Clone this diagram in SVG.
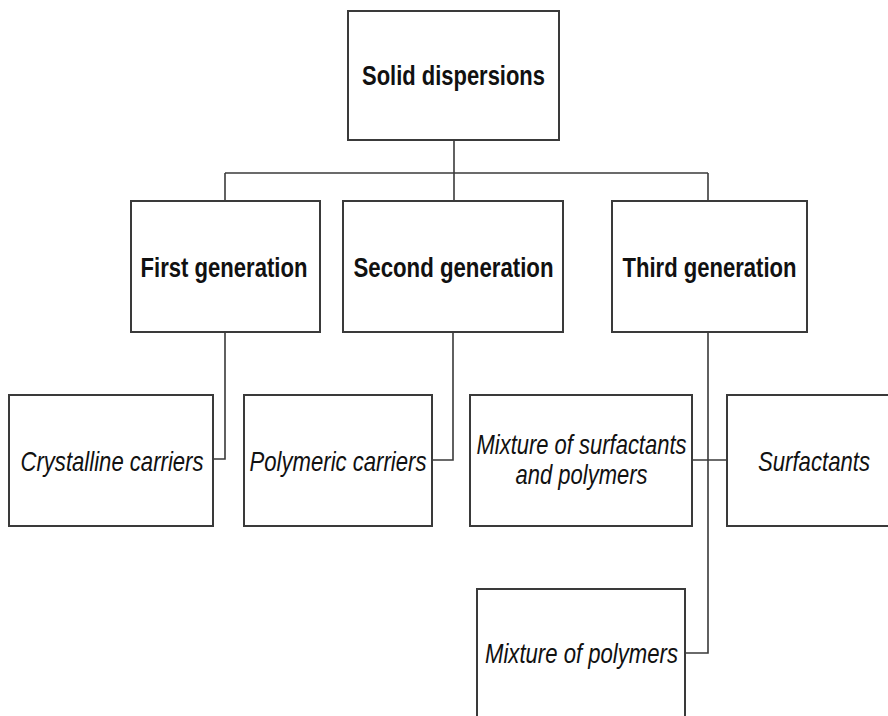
<svg xmlns="http://www.w3.org/2000/svg" width="888" height="716" viewBox="0 0 888 716">
<style>
.box{fill:#fff;stroke:#3a3a3a;stroke-width:2}
.conn{fill:none;stroke:#3a3a3a;stroke-width:1.6}
.b{font-family:"Liberation Sans",Arial,sans-serif;font-weight:bold;font-size:28px;fill:#111;text-anchor:middle}
.i{font-family:"Liberation Sans",Arial,sans-serif;font-style:italic;font-size:28px;fill:#111;text-anchor:middle}
</style>
<rect width="888" height="716" fill="#fff"/>
<g id="connectors">
<path class="conn" d="M454 140 V201"/>
<path class="conn" d="M225 173 H708"/>
<path class="conn" d="M225 173 V201"/>
<path class="conn" d="M708 173 V201"/>
<path class="conn" d="M225 332 V459 H213"/>
<path class="conn" d="M453 332 V460 H432"/>
<path class="conn" d="M708 332 V653 H685"/>
<path class="conn" d="M692 460 H727"/>
</g>
<g id="root">
<rect class="box" x="348" y="11" width="211" height="129"/>
<text class="b" x="453.5" y="85" textLength="183" lengthAdjust="spacingAndGlyphs">Solid dispersions</text>
</g>
<g id="first">
<rect class="box" x="131" y="201" width="189" height="131"/>
<text class="b" x="224" y="277" textLength="167" lengthAdjust="spacingAndGlyphs">First generation</text>
</g>
<g id="second">
<rect class="box" x="343" y="201" width="220" height="131"/>
<text class="b" x="453.5" y="277" textLength="200" lengthAdjust="spacingAndGlyphs">Second generation</text>
</g>
<g id="third">
<rect class="box" x="612" y="201" width="195" height="131"/>
<text class="b" x="709.5" y="277" textLength="174" lengthAdjust="spacingAndGlyphs">Third generation</text>
</g>
<g id="crystalline">
<rect class="box" x="9" y="395" width="204" height="131"/>
<text class="i" x="112" y="471" textLength="183" lengthAdjust="spacingAndGlyphs">Crystalline carriers</text>
</g>
<g id="polymeric">
<rect class="box" x="244" y="395" width="188" height="131"/>
<text class="i" x="338" y="471" textLength="177" lengthAdjust="spacingAndGlyphs">Polymeric carriers</text>
</g>
<g id="mix-surf-poly">
<rect class="box" x="470" y="395" width="222" height="131"/>
<text class="i" x="581.5" y="454" textLength="210" lengthAdjust="spacingAndGlyphs">Mixture of surfactants</text>
<text class="i" x="581.5" y="484" textLength="132" lengthAdjust="spacingAndGlyphs">and polymers</text>
</g>
<g id="surfactants">
<rect class="box" x="727" y="395" width="162" height="131"/>
<text class="i" x="814" y="471" textLength="112" lengthAdjust="spacingAndGlyphs">Surfactants</text>
</g>
<g id="mix-poly">
<rect class="box" x="477" y="589" width="208" height="140"/>
<text class="i" x="581.5" y="663" textLength="193" lengthAdjust="spacingAndGlyphs">Mixture of polymers</text>
</g>
</svg>
